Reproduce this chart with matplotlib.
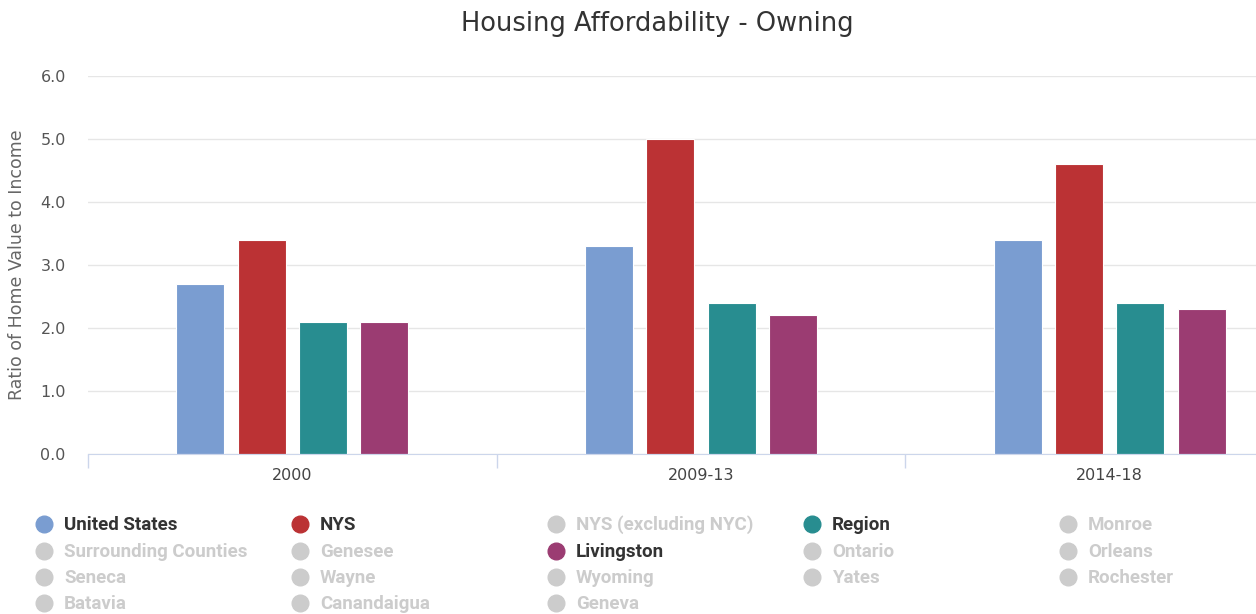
import matplotlib.pyplot as plt
from matplotlib.lines import Line2D

# data
periods = ['2000', '2009-13', '2014-18']
series_names = ['United States', 'NYS', 'Region', 'Livingston']
series_colors = ['#7a9dd1', '#bb3234', '#288d90', '#9b3c72']
us = [2.7, 3.3, 3.4]
nys = [3.4, 5.0, 4.6]
region = [2.1, 2.4, 2.4]
livingston = [2.1, 2.2, 2.3]
values = [us, nys, region, livingston]

legend_items = ['United States', 'NYS', 'NYS (excluding NYC)', 'Region', 'Monroe',
                'Surrounding Counties', 'Genesee', 'Livingston', 'Ontario', 'Orleans',
                'Seneca', 'Wayne', 'Wyoming', 'Yates', 'Rochester',
                'Batavia', 'Canandaigua', 'Geneva']

W, H = 1256, 614
fig = plt.figure(figsize=(W / 100, H / 100), dpi=100)
ax = fig.add_axes([88 / W, 160 / H, (1314 - 88) / W, 378 / H])

bar_w = 0.118
step = 0.15
for i, (name, vals, col) in enumerate(zip(series_names, values, series_colors)):
    xs = [j + (i - 1.5) * step for j in range(len(periods))]
    ax.bar(xs, vals, width=bar_w, color=col, edgecolor='white', linewidth=0.8, zorder=3)

ax.set_xlim(-0.5, 2.5)
ax.set_ylim(0, 6)
ax.set_yticks([0, 1, 2, 3, 4, 5, 6])
ax.set_yticklabels(['%.1f' % v for v in range(7)])
ax.set_xticks(range(len(periods)))
ax.set_xticklabels(periods)
ax.set_xticks([-0.5, 0.5, 1.5, 2.5], minor=True)
ax.tick_params(axis='x', which='major', length=0, pad=10, labelsize=11.5, labelcolor='#444444')
ax.tick_params(axis='x', which='minor', length=10, color='#ccd6eb', width=1)
ax.tick_params(axis='y', length=0, pad=16, labelsize=11.5, labelcolor='#555555')
ax.grid(axis='y', color='#e6e6e6', linewidth=1, zorder=0)
for s in ['top', 'right', 'left']:
    ax.spines[s].set_visible(False)
ax.spines['bottom'].set_color('#ccd6eb')
ax.spines['bottom'].set_zorder(4)
ax.set_ylabel('Ratio of Home Value to Income', fontsize=12.5, color='#666666')
ax.yaxis.set_label_coords(-62 / 1226, 0.5)

fig.text(657 / W, 1 - 24 / H, 'Housing Affordability - Owning', ha='center', va='center',
         fontsize=18.5, color='#333333')

# legend grid (5 columns, row-major like the original)
col_x = [44, 300, 556, 812, 1068]
row_y = [524, 551, 577, 603]
for k, name in enumerate(legend_items):
    r, c = divmod(k, 5)
    active = name in series_names
    col = series_colors[series_names.index(name)] if active else '#cccccc'
    x = col_x[c] / W
    y = 1 - row_y[r] / H
    fig.add_artist(Line2D([x], [y], marker='o', markersize=12, color=col,
                          linestyle='none', transform=fig.transFigure))
    fig.text(x + 20 / W, y - 1 / H, name, ha='left', va='center', fontsize=13.5,
             fontweight='bold', family='Roboto',
             color='#333333' if active else '#cccccc')

fig.savefig('out.png', dpi=100, facecolor='white')
